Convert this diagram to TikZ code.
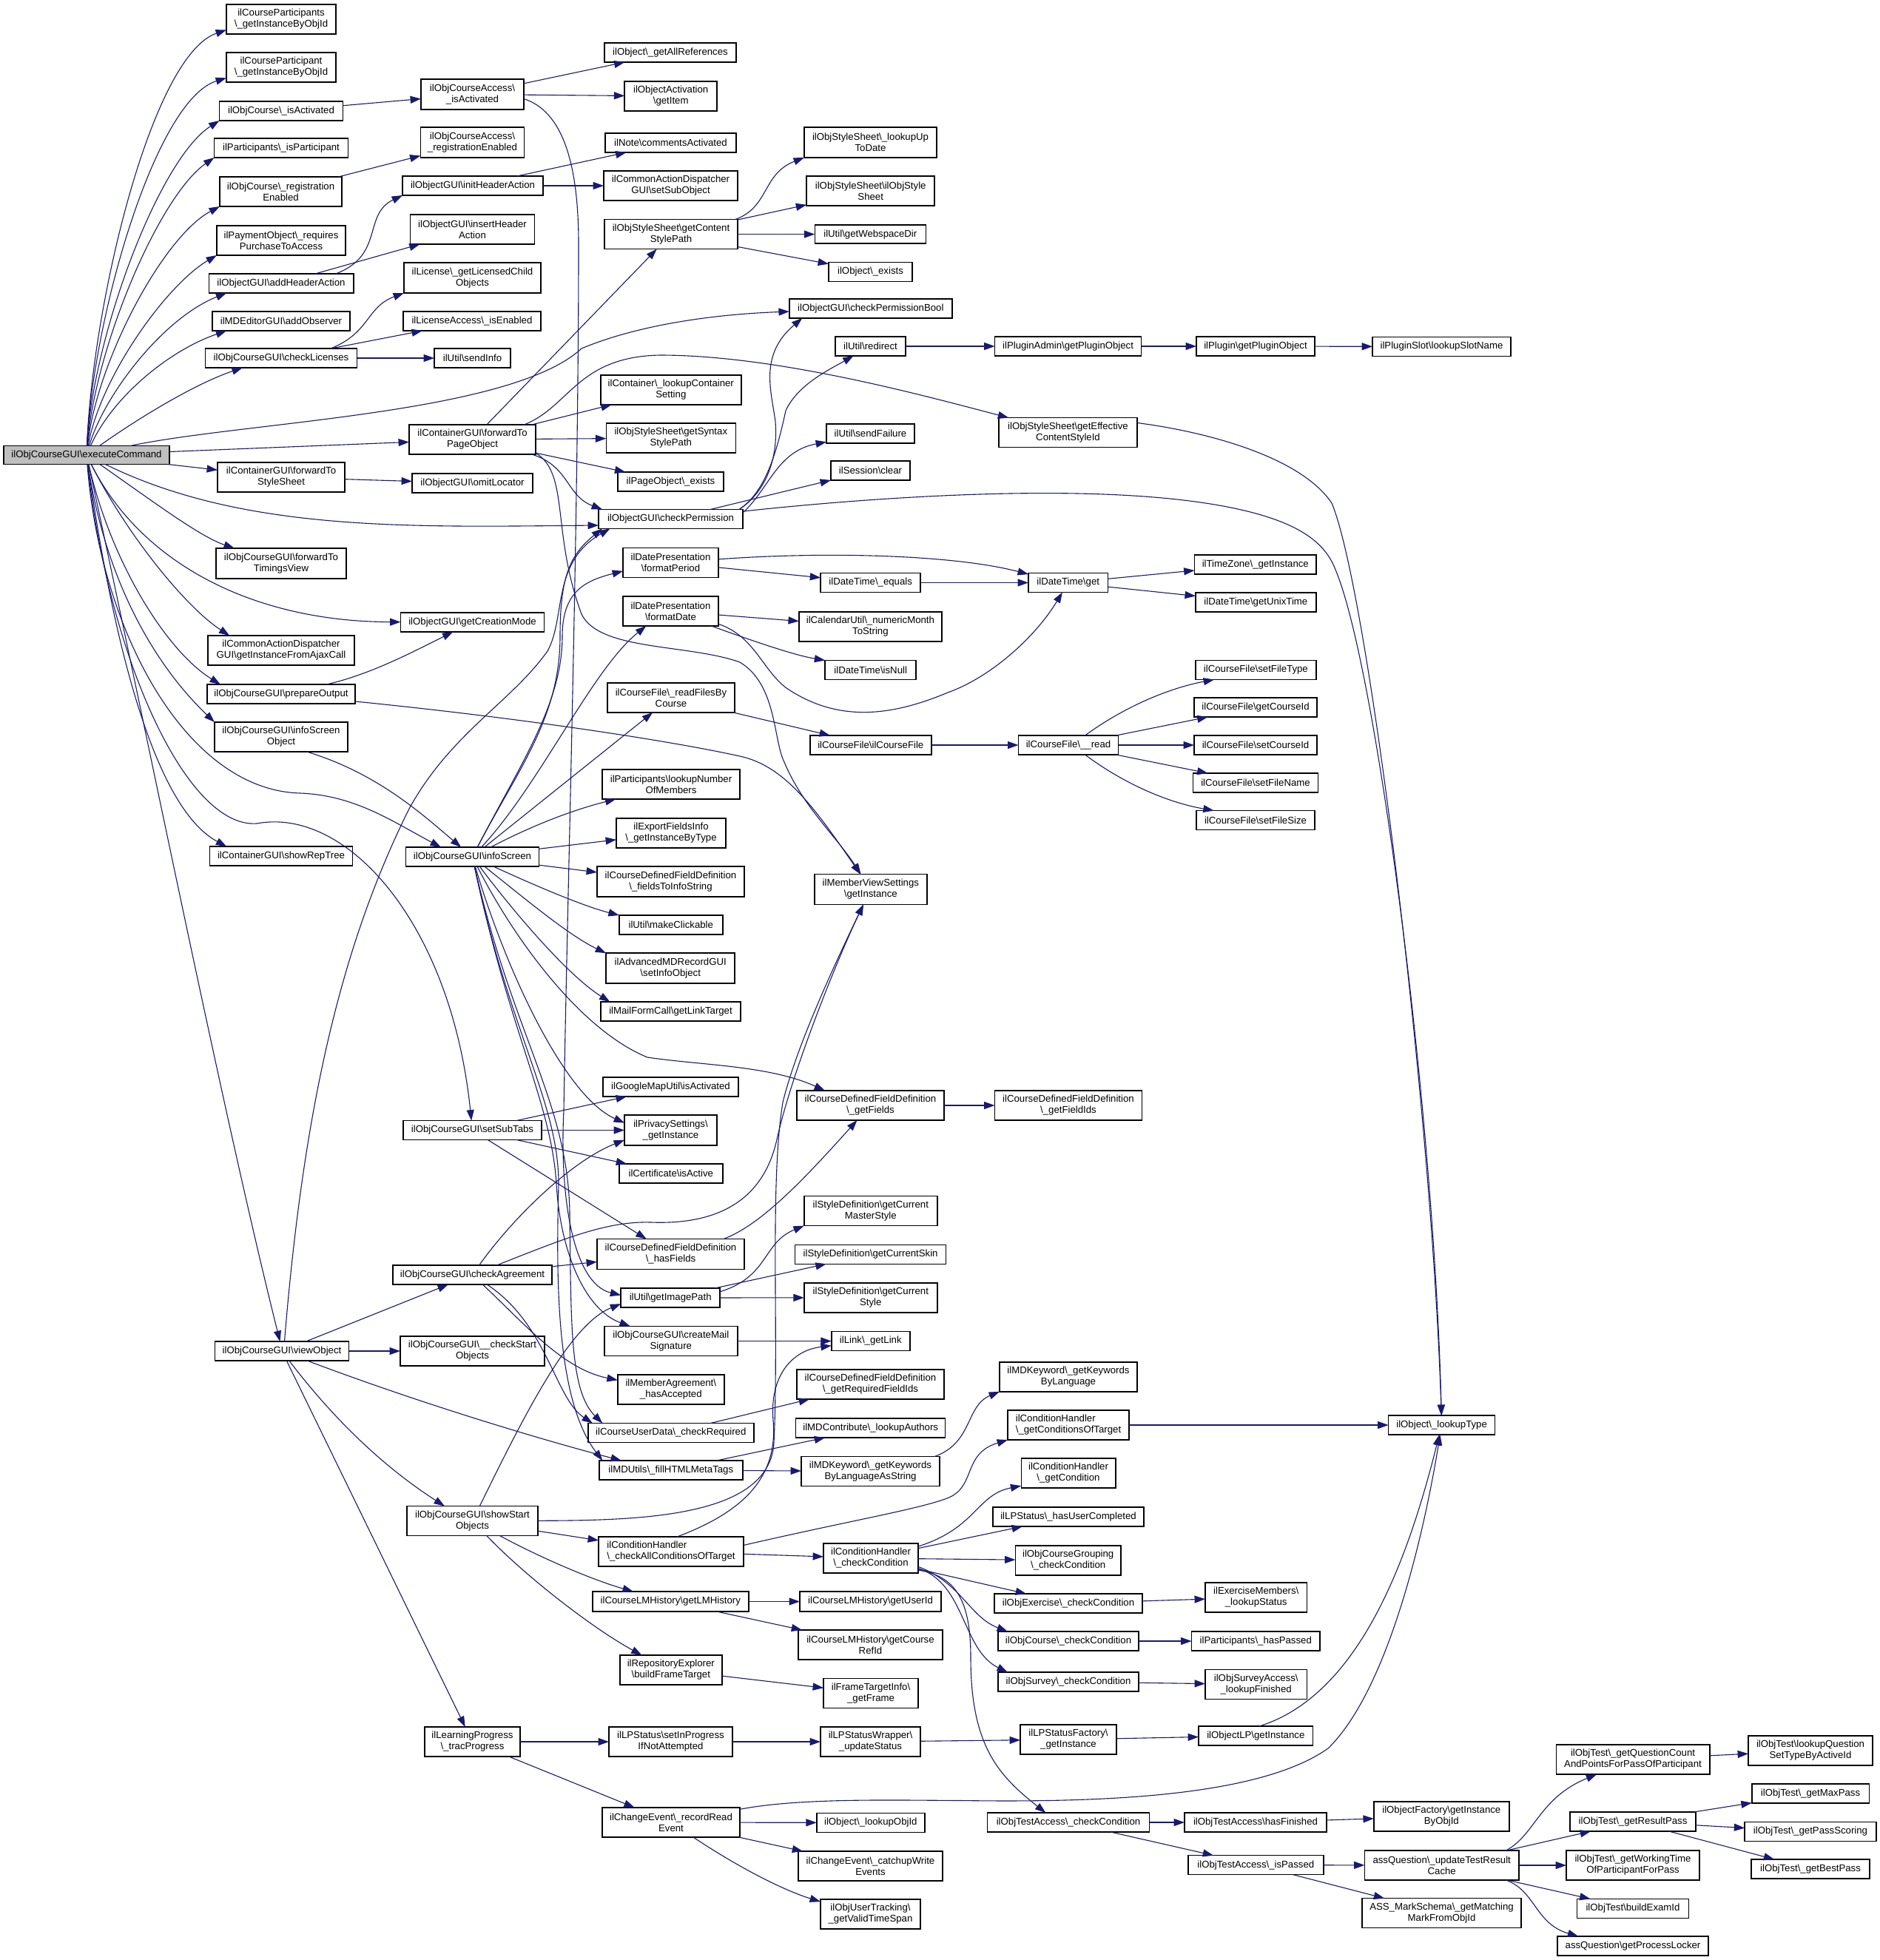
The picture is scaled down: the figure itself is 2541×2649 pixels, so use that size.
\documentclass[tikz,border=0pt]{standalone}
\usepackage{fontspec}
\setmainfont{Liberation Sans}
\usetikzlibrary{arrows.meta}
\newcommand{\bsl}{\textbackslash{}}
\definecolor{edgeblue}{RGB}{25,25,112}
\tikzset{
  nb/.style 2 args={draw=black,fill=white,line width=0.75pt,inner sep=0pt,outer sep=0pt,align=center,
    font=\fontsize{6.6}{7.5}\selectfont,minimum width=#1*0.5pt,minimum height=#2*0.5pt},
  rootbox/.style={fill=black!25!white},
  ll/.style={align=left},
  ed/.style={draw=edgeblue,line width=0.55pt,-{Triangle[length=7.2pt,width=5pt]}}
}
\begin{document}
\begin{tikzpicture}[x=0.5pt,y=-0.5pt]
\useasboundingbox (0,0) rectangle (2541,2649);
\fill[white] (0,0) rectangle (2541,2649);
% column 1
\node[nb={224}{25},rootbox] (root) at (117,615) {ilObjCourseGUI\bsl{}executeCommand};
\node[nb={148}{40}] (cpa) at (380,26) {ilCourseParticipants\\\bsl\_getInstanceByObjId};
\node[nb={148}{40}] (cpb) at (380,91) {ilCourseParticipant\\\bsl\_getInstanceByObjId};
\node[nb={167}{26}] (oia) at (380,150) {ilObjCourse\bsl\_isActivated};
\node[nb={181}{26}] (par) at (380,200) {ilParticipants\bsl\_isParticipant};
\node[nb={165}{40}] (ore) at (379.5,259) {ilObjCourse\bsl\_registration\\Enabled};
\node[nb={174}{40}] (pay) at (380,325) {ilPaymentObject\bsl\_requires\\PurchaseToAccess};
\node[nb={195.5}{26}] (aha) at (380,383) {ilObjectGUI\bsl{}addHeaderAction};
\node[nb={186}{26}] (aob) at (380,434) {ilMDEditorGUI\bsl{}addObserver};
\node[nb={205}{26}] (cli) at (380,484) {ilObjCourseGUI\bsl{}checkLicenses};
\node[nb={172}{40}] (fss) at (380,645) {ilContainerGUI\bsl{}forwardTo\\StyleSheet};
\node[nb={176}{41}] (ftv) at (380,761.5) {ilObjCourseGUI\bsl{}forwardTo\\TimingsView};
\node[nb={198}{40}] (gia) at (380,879) {ilCommonActionDispatcher\\GUI\bsl{}getInstanceFromAjaxCall};
\node[nb={200}{26}] (pop) at (380,938) {ilObjCourseGUI\bsl{}prepareOutput};
\node[nb={180}{40}] (iso) at (380,996) {ilObjCourseGUI\bsl{}infoScreen\\Object};
\node[nb={193}{26}] (srt) at (380,1157) {ilContainerGUI\bsl{}showRepTree};
\node[nb={181}{26}] (voj) at (381,1826) {ilObjCourseGUI\bsl{}viewObject};
% column 2
\node[nb={139}{41}] (oca) at (638.5,127.5) {ilObjCourseAccess\bsl\\\_isActivated};
\node[nb={140}{41}] (cre) at (638.5,192.5) {ilObjCourseAccess\bsl\\\_registrationEnabled};
\node[nb={190}{26}] (ihr) at (639,251) {ilObjectGUI\bsl{}initHeaderAction};
\node[nb={168}{40}] (ins) at (638.5,310) {ilObjectGUI\bsl{}insertHeader\\Action};
\node[nb={185}{41}] (lic) at (638.5,375.5) {ilLicense\bsl\_getLicensedChild\\Objects};
\node[nb={186}{26}] (lia) at (638,434) {ilLicenseAccess\bsl\_isEnabled};
\node[nb={103}{26}] (sin) at (638.5,484) {ilUtil\bsl{}sendInfo};
\node[nb={171}{40}] (fpo) at (638.5,594) {ilContainerGUI\bsl{}forwardTo\\PageObject};
\node[nb={163}{26}] (omi) at (638.5,653) {ilObjectGUI\bsl{}omitLocator};
\node[nb={194}{26}] (gcm) at (638.5,841) {ilObjectGUI\bsl{}getCreationMode};
\node[nb={180}{26}] (isc) at (638.5,1158) {ilObjCourseGUI\bsl{}infoScreen};
\node[nb={187}{26}] (sst) at (638.5,1527.5) {ilObjCourseGUI\bsl{}setSubTabs};
\node[nb={215}{26}] (cag) at (638.5,1723) {ilObjCourseGUI\bsl{}checkAgreement};
\node[nb={195}{40}] (cso) at (638.5,1826) {ilObjCourseGUI\bsl\_\_checkStart\\Objects};
\node[nb={177}{40}] (sso) at (638.5,2055.5) {ilObjCourseGUI\bsl{}showStart\\Objects};
\node[nb={129}{40}] (lpr) at (638.5,2354) {ilLearningProgress\\\bsl\_tracProgress};
% column 3
\node[nb={178}{26}] (gar) at (906,71) {ilObject\bsl\_getAllReferences};
\node[nb={125}{40}] (act) at (906.7,130) {ilObjectActivation\\\bsl{}getItem};
\node[nb={177}{26}] (com) at (906.5,193) {ilNote\bsl{}commentsActivated};
\node[nb={181}{40}] (ssb) at (906.5,251) {ilCommonActionDispatcher\\GUI\bsl{}setSubObject};
\node[nb={180}{40}] (gcs) at (907,316.6) {ilObjStyleSheet\bsl{}getContent\\StylePath};
\node[nb={190}{40}] (lct) at (906.8,527) {ilContainer\bsl\_lookupContainer\\Setting};
\node[nb={175}{40}] (gsy) at (906.8,592) {ilObjStyleSheet\bsl{}getSyntax\\StylePath};
\node[nb={143}{26}] (pex) at (906.5,651) {ilPageObject\bsl\_exists};
\node[nb={195}{26}] (cpm) at (906.5,701.5) {ilObjectGUI\bsl{}checkPermission};
\node[nb={129}{40}] (fpd) at (906.5,760.5) {ilDatePresentation\\\bsl{}formatPeriod};
\node[nb={129}{40}] (fdt) at (906.5,826) {ilDatePresentation\\\bsl{}formatDate};
\node[nb={172}{40}] (rff) at (907,943) {ilCourseFile\bsl\_readFilesBy\\Course};
\node[nb={186}{40}] (lnm) at (907,1060) {ilParticipants\bsl{}lookupNumber\\OfMembers};
\node[nb={148}{40}] (exf) at (907,1126) {ilExportFieldsInfo\\\bsl\_getInstanceByType};
\node[nb={199}{41}] (fis) at (906.5,1191.3) {ilCourseDefinedFieldDefinition\\\bsl\_fieldsToInfoString};
\node[nb={140}{26}] (mkc) at (906.8,1250) {ilUtil\bsl{}makeClickable};
\node[nb={174}{41}] (amd) at (906.2,1308.7) {ilAdvancedMDRecordGUI\\\bsl{}setInfoObject};
\node[nb={189}{26}] (mfc) at (906.5,1367) {ilMailFormCall\bsl{}getLinkTarget};
\node[nb={183}{26}] (gmu) at (906.5,1469) {ilGoogleMapUtil\bsl{}isActivated};
\node[nb={125}{41}] (pvs) at (906.5,1527.5) {ilPrivacySettings\bsl\\\_getInstance};
\node[nb={140}{26}] (cia) at (906.8,1586) {ilCertificate\bsl{}isActive};
\node[nb={199}{41}] (hfl) at (906.5,1695) {ilCourseDefinedFieldDefinition\\\bsl\_hasFields};
\node[nb={134}{26}] (gip) at (906.2,1754) {ilUtil\bsl{}getImagePath};
\node[nb={180}{40}] (cms) at (906.8,1812.5) {ilObjCourseGUI\bsl{}createMail\\Signature};
\node[nb={144}{40}] (mag) at (906.8,1878) {ilMemberAgreement\bsl\\\_hasAccepted};
\node[nb={224}{26}] (cud) at (906.8,1936.5) {ilCourseUserData\bsl\_checkRequired};
\node[nb={194}{26}] (fhm) at (906.8,1987) {ilMDUtils\bsl\_fillHTMLMetaTags};
\node[nb={196}{40},ll] (cat) at (907,2097) {ilConditionHandler\\\bsl\_checkAllConditionsOfTarget};
\node[nb={211}{27}] (glh) at (906.3,2164.5) {ilCourseLMHistory\bsl{}getLMHistory};
\node[nb={138}{40}] (rex) at (906.8,2257) {ilRepositoryExplorer\\\bsl{}buildFrameTarget};
\node[nb={167}{40}] (sip) at (906.5,2354) {ilLPStatus\bsl{}setInProgress\\IfNotAttempted};
\node[nb={186}{40}] (rre) at (907,2463) {ilChangeEvent\bsl\_recordRead\\Event};
% column 4
\node[nb={179}{41}] (lud) at (1176.5,192.5) {ilObjStyleSheet\bsl\_lookupUp\\ToDate};
\node[nb={173}{40}] (oss) at (1176.7,258) {ilObjStyleSheet\bsl{}ilObjStyle\\Sheet};
\node[nb={150}{25}] (gwd) at (1176.3,316.6) {ilUtil\bsl{}getWebspaceDir};
\node[nb={113}{26}] (oex) at (1176.5,367.3) {ilObject\bsl\_exists};
\node[nb={220}{26}] (cpo) at (1176.8,417) {ilObjectGUI\bsl{}checkPermissionBool};
\node[nb={95}{26}] (red) at (1176.5,468) {ilUtil\bsl{}redirect};
\node[nb={119}{26}] (sfa) at (1176.5,586) {ilUtil\bsl{}sendFailure};
\node[nb={107}{26}] (scl) at (1176.5,636) {ilSession\bsl{}clear};
\node[nb={135}{26}] (equ) at (1176.7,787.5) {ilDateTime\bsl\_equals};
\node[nb={193}{40}] (nmt) at (1176.4,847) {ilCalendarUtil\bsl\_numericMonth\\ToString};
\node[nb={123}{26}] (inu) at (1176.7,905.5) {ilDateTime\bsl{}isNull};
\node[nb={164}{26}] (icf) at (1176.8,1007) {ilCourseFile\bsl{}ilCourseFile};
\node[nb={152}{41}] (mvs) at (1176.8,1202) {ilMemberViewSettings\\\bsl{}getInstance};
\node[nb={199}{40}] (gfd) at (1176.5,1494) {ilCourseDefinedFieldDefinition\\\bsl\_getFields};
\node[nb={180}{40}] (cmt) at (1176.8,1636.6) {ilStyleDefinition\bsl{}getCurrent\\MasterStyle};
\node[nb={204}{26}] (csk) at (1176.6,1695.3) {ilStyleDefinition\bsl{}getCurrentSkin};
\node[nb={180}{40}] (cst) at (1176.8,1753.8) {ilStyleDefinition\bsl{}getCurrent\\Style};
\node[nb={106}{26}] (gli) at (1176.8,1812.5) {ilLink\bsl\_getLink};
\node[nb={199}{40}] (grf) at (1176.5,1871) {ilCourseDefinedFieldDefinition\\\bsl\_getRequiredFieldIds};
\node[nb={202}{26}] (lau) at (1176.7,1930) {ilMDContribute\bsl\_lookupAuthors};
\node[nb={187}{40}] (kls) at (1176.5,1988.5) {ilMDKeyword\bsl\_getKeywords\\ByLanguageAsString};
\node[nb={128}{40}] (cco) at (1177,2106) {ilConditionHandler\\\bsl\_checkCondition};
\node[nb={191}{27}] (gui) at (1176.5,2164.5) {ilCourseLMHistory\bsl{}getUserId};
\node[nb={195}{40}] (gcr) at (1176.5,2223) {ilCourseLMHistory\bsl{}getCourse\\RefId};
\node[nb={128}{40}] (gfr) at (1177,2288.7) {ilFrameTargetInfo\bsl\\\_getFrame};
\node[nb={135}{40}] (lsw) at (1176.5,2354) {ilLPStatusWrapper\bsl\\\_updateStatus};
\node[nb={146}{26}] (loi) at (1176.8,2463.4) {ilObject\bsl\_lookupObjId};
\node[nb={195}{40}] (cwe) at (1176.5,2522) {ilChangeEvent\bsl\_catchupWrite\\Events};
\node[nb={135}{40}] (vts) at (1176.5,2587) {ilObjUserTracking\bsl\\\_getValidTimeSpan};
% column 5
\node[nb={199}{40}] (gfi) at (1444,1494) {ilCourseDefinedFieldDefinition\\\bsl\_getFieldIds};
\node[nb={198}{26}] (gpa) at (1443.6,468) {ilPluginAdmin\bsl{}getPluginObject};
\node[nb={187}{40}] (gef) at (1443.5,584.6) {ilObjStyleSheet\bsl{}getEffective\\ContentStyleId};
\node[nb={107.5}{26}] (dtg) at (1443.7,787.5) {ilDateTime\bsl{}get};
\node[nb={135}{26}] (frd) at (1444,1007) {ilCourseFile\bsl\_\_read};
\node[nb={186}{40}] (gkl) at (1444,1860.8) {ilMDKeyword\bsl\_getKeywords\\ByLanguage};
\node[nb={164}{40},ll] (gct) at (1444,1926) {ilConditionHandler\\\bsl\_getConditionsOfTarget};
\node[nb={127.5}{40}] (gcd) at (1444,1991) {ilConditionHandler\\\bsl\_getCondition};
\node[nb={204}{26}] (huc) at (1444,2050) {ilLPStatus\bsl\_hasUserCompleted};
\node[nb={142.5}{40}] (ocg) at (1443.7,2108.8) {ilObjCourseGrouping\\\bsl\_checkCondition};
\node[nb={200}{26}] (oec) at (1444,2167) {ilObjExercise\bsl\_checkCondition};
\node[nb={190}{26}] (occ) at (1444,2218) {ilObjCourse\bsl\_checkCondition};
\node[nb={190}{26}] (osc) at (1444,2273) {ilObjSurvey\bsl\_checkCondition};
\node[nb={130}{40}] (lsf) at (1444,2351) {ilLPStatusFactory\bsl\\\_getInstance};
\node[nb={219}{26}] (tac) at (1444,2463) {ilObjTestAccess\bsl\_checkCondition};
% column 6
\node[nb={160}{26}] (gpl) at (1697,468) {ilPlugin\bsl{}getPluginObject};
\node[nb={164.5}{26}] (tzi) at (1696.8,763) {ilTimeZone\bsl\_getInstance};
\node[nb={163}{26}] (gut) at (1697.4,814) {ilDateTime\bsl{}getUnixTime};
\node[nb={163}{26}] (sft) at (1697.4,905.5) {ilCourseFile\bsl{}setFileType};
\node[nb={166}{26}] (gci) at (1697,956) {ilCourseFile\bsl{}getCourseId};
\node[nb={166}{26}] (sci) at (1697,1007) {ilCourseFile\bsl{}setCourseId};
\node[nb={169}{26}] (sfn) at (1697,1058) {ilCourseFile\bsl{}setFileName};
\node[nb={160}{26}] (sfs) at (1697,1108.5) {ilCourseFile\bsl{}setFileSize};
\node[nb={137.5}{40}] (eml) at (1697.7,2159) {ilExerciseMembers\bsl\\\_lookupStatus};
\node[nb={173.5}{26}] (hpa) at (1697.3,2218) {ilParticipants\bsl\_hasPassed};
\node[nb={137.5}{40}] (sal) at (1697.7,2276.5) {ilObjSurveyAccess\bsl\\\_lookupFinished};
\node[nb={154.6}{26}] (olp) at (1697.3,2346) {ilObjectLP\bsl{}getInstance};
\node[nb={192}{26}] (thf) at (1697,2463) {ilObjTestAccess\bsl{}hasFinished};
\node[nb={183}{26}] (tip) at (1697.3,2520.6) {ilObjTestAccess\bsl\_isPassed};
% column 7
\node[nb={187}{26}] (lsn) at (1948.5,468.5) {ilPluginSlot\bsl{}lookupSlotName};
\node[nb={144}{26}] (ltp) at (1948.6,1926) {ilObject\bsl\_lookupType};
\node[nb={183}{40}] (ofa) at (1948.3,2455) {ilObjectFactory\bsl{}getInstance\\ByObjId};
\node[nb={208.5}{40}] (utr) at (1948.7,2521) {assQuestion\bsl\_updateTestResult\\Cache};
\node[nb={215}{40}] (msm) at (1948.5,2585.6) {ASS\_MarkSchema\bsl\_getMatching\\MarkFromObjId};
% column 8
\node[nb={207.5}{40}] (qco) at (2207,2378) {ilObjTest\bsl\_getQuestionCount\\AndPointsForPassOfParticipant};
\node[nb={170}{26}] (grp) at (2207,2462) {ilObjTest\bsl\_getResultPass};
\node[nb={180}{40}] (wtm) at (2207,2521) {ilObjTest\bsl\_getWorkingTime\\OfParticipantForPass};
\node[nb={151}{26}] (bei) at (2207,2579.4) {ilObjTest\bsl{}buildExamId};
\node[nb={204}{26}] (gpp) at (2207,2630) {assQuestion\bsl{}getProcessLocker};
% column 9
\node[nb={168}{40}] (lqs) at (2447,2366) {ilObjTest\bsl{}lookupQuestion\\SetTypeByActiveId};
\node[nb={158.5}{26}] (gmp) at (2447,2424) {ilObjTest\bsl\_getMaxPass};
\node[nb={177.6}{26}] (gps) at (2447,2475.5) {ilObjTest\bsl\_getPassScoring};
\node[nb={160}{26}] (gbp) at (2447,2526) {ilObjTest\bsl\_getBestPass};
% edges from root
\draw[ed] (root) .. controls (125,410) and (205,75) .. (cpa.191);
\draw[ed] (root) .. controls (125,430) and (210,135) .. (cpb.191);
\draw[ed] (root) .. controls (125,455) and (215,215) .. (oia.south west);
\draw[ed] (root) .. controls (128,470) and (215,265) .. (par.south west);
\draw[ed] (root) .. controls (130,490) and (220,320) .. (ore.south west);
\draw[ed] (root) .. controls (135,510) and (225,385) .. (pay.south west);
\draw[ed] (root) .. controls (140,535) and (220,430) .. (aha.190);
\draw[ed] (root) .. controls (150,540) and (225,475) .. (aob.190);
\draw[ed] (root) .. controls (180,570) and (260,520) .. (cli.194);
\draw[ed] (root) .. controls (330,570) and (690,560) .. (786,471) .. controls (860,440) and (960,425) .. (cpo);
\draw[ed] (root) -- (fpo);
\draw[ed] (root) -- (fss);
\draw[ed] (root) .. controls (330,720) and (560,712) .. (cpm.185);
\draw[ed] (root) .. controls (210,680) and (270,725) .. (ftv.162);
\draw[ed] (root) .. controls (190,760) and (340,840) .. (gcm);
\draw[ed] (root) .. controls (170,720) and (250,820) .. (gia.164);
\draw[ed] (root) .. controls (150,760) and (225,880) .. (pop.171);
\draw[ed] (root) .. controls (140,770) and (200,890) .. (iso.north west);
\draw[ed] (root) .. controls (135,850) and (250,1068) .. (406,1072) .. controls (480,1075) and (530,1110) .. (isc.163);
\draw[ed] (root) .. controls (150,850) and (205,1090) .. (srt.170);
\draw[ed] (root) .. controls (145,880) and (250,1120) .. (347,1113) .. controls (470,1090) and (610,1250) .. (sst);
\draw[ed] (root) .. controls (190,950) and (300,1500) .. (voj.101);
% column 1 outgoing
\draw[ed] (oia) -- (oca);
\draw[ed] (ore) -- (cre);
\draw[ed] (aha.10) .. controls (520,345) and (490,290) .. (ihr.south west);
\draw[ed] (aha) -- (ins);
\draw[ed] (cli.11) .. controls (500,450) and (495,415) .. (lic.south west);
\draw[ed] (cli) -- (lia);
\draw[ed] (cli) -- (sin);
\draw[ed] (fss) -- (omi);
\draw[ed] (pop.12) .. controls (500,912) and (560,880) .. (gcm);
\draw[ed] (pop) .. controls (700,970) and (900,1000) .. (1000,1022) .. controls (1060,1035) and (1100,1090) .. (mvs);
\draw[ed] (iso.-30) .. controls (510,1045) and (570,1100) .. (isc);
% viewObject
\draw[ed] (voj) -- (cag);
\draw[ed] (voj) -- (cso);
\draw[ed] (voj) .. controls (550,1890) and (710,1940) .. (fhm.169);
\draw[ed] (voj) .. controls (460,1930) and (530,1990) .. (sso.152);
\draw[ed] (voj) -- (lpr);
\draw[ed] (voj.75) .. controls (410,1500) and (460,1280) .. (553,1093) .. controls (610,990) and (690,950) .. (740,880) .. controls (765,835) and (745,760) .. (cpm.189);
% ilObjCourseAccess
\draw[ed] (oca) -- (gar);
\draw[ed] (oca) -- (act);
\draw[ed] (oca.-5) .. controls (760,150) and (782,220) .. (782,330) .. controls (782,700) and (767,1200) .. (762,1500) .. controls (756,1620) and (775,1735) .. (gip.177);
% initHeaderAction
\draw[ed] (ihr) -- (com);
\draw[ed] (ihr) -- (ssb);
% forwardToPageObject
\draw[ed] (fpo) -- (gcs);
\draw[ed] (fpo.16) .. controls (770,550) and (780,482) .. (892,480) .. controls (1050,480) and (1250,535) .. (gef.166);
\draw[ed] (fpo) -- (lct);
\draw[ed] (fpo) -- (gsy);
\draw[ed] (fpo) -- (pex);
\draw[ed] (fpo.-14) .. controls (770,630) and (765,670) .. (cpm.172);
\draw[ed] (fpo.-12) .. controls (770,640) and (745,720) .. (786,830) .. controls (810,880) and (930,870) .. (1000,895) .. controls (1050,925) and (1045,1000) .. (1060,1030) .. controls (1085,1090) and (1130,1130) .. (mvs);
% infoScreen
\draw[ed] (isc) .. controls (700,1040) and (757,970) .. (757,860) .. controls (757,780) and (770,750) .. (cpm.188);
\draw[ed] (isc) .. controls (705,1030) and (760,950) .. (760,860) .. controls (760,800) and (790,785) .. (fpd.190);
\draw[ed] (isc) .. controls (730,1060) and (800,905) .. (fdt.211);
\draw[ed] (isc) -- (rff);
\draw[ed] (isc) .. controls (730,1110) and (785,1092) .. (lnm.195);
\draw[ed] (isc) -- (exf);
\draw[ed] (isc) -- (fis);
\draw[ed] (isc) .. controls (730,1200) and (790,1225) .. (mkc.north west);
\draw[ed] (isc) .. controls (710,1215) and (770,1265) .. (amd.north west);
\draw[ed] (isc) .. controls (700,1240) and (770,1320) .. (mfc.171);
\draw[ed] (isc) .. controls (690,1260) and (780,1390) .. (875,1429) .. controls (950,1440) and (1040,1440) .. (gfd.162);
\draw[ed] (isc) .. controls (680,1300) and (760,1480) .. (pvs.171);
\draw[ed] (isc) .. controls (690,1400) and (745,1490) .. (752,1600) .. controls (757,1690) and (790,1770) .. (cms.160);
\draw[ed] (isc) .. controls (690,1400) and (755,1490) .. (755,1600) .. controls (752,1720) and (750,1890) .. (fhm.172);
\draw[ed] (isc) .. controls (693,1400) and (768,1490) .. (770,1640) .. controls (772,1790) and (770,1880) .. (cud.172);
% setSubTabs
\draw[ed] (sst) -- (gmu);
\draw[ed] (sst) -- (pvs);
\draw[ed] (sst) -- (cia);
\draw[ed] (sst) -- (hfl);
% checkAgreement
\draw[ed] (cag) .. controls (690,1650) and (770,1570) .. (pvs.192);
\draw[ed] (cag) .. controls (760,1675) and (820,1650) .. (880,1652) .. controls (960,1655) and (1030,1630) .. (1050,1540) .. controls (1070,1450) and (1130,1300) .. (mvs);
\draw[ed] (cag) -- (hfl);
\draw[ed] (cag) .. controls (710,1790) and (760,1850) .. (mag.170);
\draw[ed] (cag) .. controls (740,1790) and (750,1890) .. (cud.173);
% showStartObjects
\draw[ed] (sso) .. controls (710,1910) and (770,1790) .. (gip.187);
\draw[ed] (sso) .. controls (870,2055) and (1040,2050) .. (1046,1950) .. controls (1053,1800) and (1040,1600) .. (1058,1490) .. controls (1075,1420) and (1120,1320) .. (mvs);
\draw[ed] (sso) -- (cat);
\draw[ed] (sso) .. controls (730,2105) and (800,2135) .. (glh.165);
\draw[ed] (sso) .. controls (710,2130) and (800,2200) .. (rex.153);
% learning progress
\draw[ed] (lpr) -- (sip);
\draw[ed] (lpr) -- (rre);
\draw[ed] (sip) -- (lsw);
\draw[ed] (lsw) -- (lsf);
\draw[ed] (lsf) -- (olp);
\draw[ed] (olp.70) .. controls (1840,2290) and (1905,2100) .. (ltp);
% change event
\draw[ed] (rre) .. controls (1080,2430) and (1200,2433) .. (1300,2433.5) .. controls (1480,2436) and (1700,2430) .. (1795,2363) .. controls (1870,2290) and (1920,2100) .. (ltp);
\draw[ed] (rre) -- (loi);
\draw[ed] (rre) -- (cwe);
\draw[ed] (rre) .. controls (1000,2525) and (1060,2555) .. (vts.166);
% column 3 outgoing
\draw[ed] (gcs.13) .. controls (1040,280) and (1030,235) .. (lud.south west);
\draw[ed] (gcs) -- (oss);
\draw[ed] (gcs) -- (gwd);
\draw[ed] (gcs) -- (oex);
\draw[ed] (cpm.8) .. controls (1035,665) and (1052,620) .. (1048,570) .. controls (1043,530) and (1025,480) .. (cpo.188);
\draw[ed] (cpm.8) .. controls (1035,665) and (1050,610) .. (1062,555) .. controls (1078,520) and (1120,500) .. (red);
\draw[ed] (cpm.5) .. controls (1040,660) and (1050,610) .. (sfa);
\draw[ed] (cpm) -- (scl);
\draw[ed] (cpm) .. controls (1200,670) and (1500,650) .. (1673,688) .. controls (1750,705) and (1790,730) .. (1805,770) .. controls (1860,900) and (1938,1500) .. (ltp);
\draw[ed] (fpd) .. controls (1120,745) and (1290,750) .. (dtg.168);
\draw[ed] (fpd) -- (equ);
\draw[ed] (equ) -- (dtg);
\draw[ed] (fdt) -- (nmt);
\draw[ed] (fdt) .. controls (1000,860) and (1070,885) .. (inu.north west);
\draw[ed] (fdt.-15) .. controls (1020,860) and (1030,905) .. (1063,930) .. controls (1130,975) and (1200,970) .. (1281,936) .. controls (1340,915) and (1400,860) .. (dtg);
\draw[ed] (rff) -- (icf);
\draw[ed] (icf) -- (frd);
\draw[ed] (frd.30) .. controls (1520,955) and (1580,930) .. (sft.193);
\draw[ed] (frd) -- (gci);
\draw[ed] (frd) -- (sci);
\draw[ed] (frd) -- (sfn);
\draw[ed] (frd.-30) .. controls (1520,1060) and (1580,1085) .. (sfs.167);
\draw[ed] (hfl.16) .. controls (1030,1655) and (1090,1590) .. (gfd);
\draw[ed] (gfd) -- (gfi);
\draw[ed] (gip.7) .. controls (1040,1725) and (1030,1680) .. (cmt.south west);
\draw[ed] (gip) -- (csk);
\draw[ed] (gip) -- (cst);
\draw[ed] (cms) -- (gli);
\draw[ed] (cud) -- (grf);
\draw[ed] (fhm) -- (lau);
\draw[ed] (fhm) -- (kls);
\draw[ed] (kls.13) .. controls (1315,1950) and (1305,1900) .. (gkl.south west);
\draw[ed] (cat.5) .. controls (1150,2055) and (1240,2040) .. (1280,2025) .. controls (1320,2010) and (1300,1965) .. (gct.south west);
\draw[ed] (cat) -- (cco);
\draw[ed] (cat.68) .. controls (1000,2045) and (1052,2000) .. (1045,1920) .. controls (1040,1860) and (1070,1825) .. (gli);
\draw[ed] (gct) -- (ltp);
\draw[ed] (glh) -- (gui);
\draw[ed] (glh) -- (gcr);
\draw[ed] (rex) -- (gfr);
% checkCondition
\draw[ed] (cco.14) .. controls (1320,2065) and (1320,2020) .. (gcd.195);
\draw[ed] (cco) -- (huc);
\draw[ed] (cco) -- (ocg);
\draw[ed] (cco) -- (oec);
\draw[ed] (cco.-10) .. controls (1300,2140) and (1310,2185) .. (occ.171);
\draw[ed] (cco.-12) .. controls (1305,2140) and (1300,2230) .. (osc.171);
\draw[ed] (cco.-14) .. controls (1290,2130) and (1312,2160) .. (1312,2240) .. controls (1312,2360) and (1350,2400) .. (tac.157);
\draw[ed] (oec) -- (eml);
\draw[ed] (occ) -- (hpa);
\draw[ed] (osc) -- (sal);
% redirect chain and others
\draw[ed] (red) -- (gpa);
\draw[ed] (gpa) -- (gpl);
\draw[ed] (gpl) -- (lsn);
\draw[ed] (gef.8) .. controls (1640,585) and (1760,620) .. (1800,680) .. controls (1850,800) and (1935,1500) .. (ltp);
\draw[ed] (dtg) -- (tzi);
\draw[ed] (dtg) -- (gut);
% test access
\draw[ed] (tac) -- (thf);
\draw[ed] (tac) -- (tip);
\draw[ed] (thf) -- (ofa);
\draw[ed] (tip) -- (utr);
\draw[ed] (tip) -- (msm);
\draw[ed] (utr.13) .. controls (2075,2480) and (2080,2430) .. (qco);
\draw[ed] (utr) -- (grp);
\draw[ed] (utr) -- (wtm);
\draw[ed] (utr) -- (bei);
\draw[ed] (utr.-13) .. controls (2075,2555) and (2075,2600) .. (gpp.170);
\draw[ed] (qco) -- (lqs);
\draw[ed] (grp) -- (gmp);
\draw[ed] (grp) -- (gps);
\draw[ed] (grp) -- (gbp);
\end{tikzpicture}
\end{document}
